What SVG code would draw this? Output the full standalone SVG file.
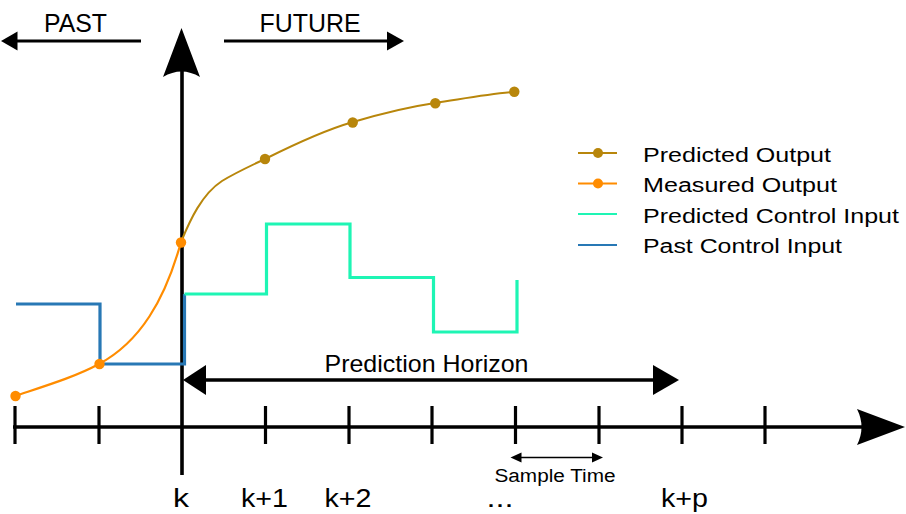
<svg xmlns="http://www.w3.org/2000/svg" width="906" height="514" viewBox="0 0 906 514">
<style>
text{font-family:"Liberation Sans",Arial,sans-serif;fill:#000}
.big{font-size:25px}
.lbl{font-size:26px}
.leg{font-size:20px}
.axis{stroke:#000;stroke-width:3.6;fill:none}
.tick{stroke:#000;stroke-width:3.2}
.thin{stroke:#000;stroke-width:3;fill:none}
.pred{stroke:#B8860B;stroke-width:2;fill:none}
.meas{stroke:#FF8C00;stroke-width:2.2;fill:none}
.pci{stroke:#1EF5B4;stroke-width:3.2;fill:none}
.past{stroke:#2878B5;stroke-width:3.2;fill:none}
.dp{fill:#B8860B}
.dm{fill:#FF8C00}
</style>
<rect width="906" height="514" fill="#fff"/>
<g id="connectors">
  <!-- time axis -->
  <line class="axis" x1="13" y1="427" x2="862" y2="427"/>
  <path d="M905,427 L857,409 Q866,427 857,445 Z" fill="#000"/>
  <g class="tick">
    <line x1="15" y1="406" x2="15" y2="444"/>
    <line x1="99" y1="406" x2="99" y2="444"/>
    <line x1="265.5" y1="406" x2="265.5" y2="444"/>
    <line x1="349" y1="406" x2="349" y2="444"/>
    <line x1="432" y1="406" x2="432" y2="444"/>
    <line x1="515.5" y1="406" x2="515.5" y2="444"/>
    <line x1="599" y1="406" x2="599" y2="444"/>
    <line x1="682" y1="406" x2="682" y2="444"/>
    <line x1="765" y1="406" x2="765" y2="444"/>
  </g>
  <!-- vertical k axis -->
  <line class="axis" x1="182" y1="475" x2="182" y2="70"/>
  <path d="M181.5,28 L200,77 Q181.5,66 163,77 Z" fill="#000"/>
  <!-- past / future arrows -->
  <line class="thin" x1="16" y1="41" x2="141" y2="41"/>
  <polygon points="1,41 17.5,31.5 17.5,50.5" fill="#000"/>
  <line class="thin" x1="224" y1="41" x2="389" y2="41"/>
  <polygon points="404,41 387,31.5 387,50.5" fill="#000"/>
  <!-- prediction horizon -->
  <line class="axis" x1="204" y1="380" x2="655" y2="380"/>
  <polygon points="183,380 206,365 206,395" fill="#000"/>
  <polygon points="679,380 653,365 653,395" fill="#000"/>
  <!-- sample time -->
  <line stroke="#000" stroke-width="1.6" x1="518" y1="457.5" x2="596" y2="457.5"/>
  <polygon points="510.5,457.5 521.5,452.5 521.5,462.5" fill="#000"/>
  <polygon points="603,457.5 592,452.5 592,462.5" fill="#000"/>
</g>
<g id="past-control-input">
  <path class="past" d="M16,304 H100 V364 H184.5 V294"/>
</g>
<g id="predicted-control-input">
  <path class="pci" d="M184.5,294 H266.5 V224 H350 V277.5 H433.5 V332 H517 V280"/>
</g>
<g id="predicted-output">
  <path class="pred" d="M181,242 C190,220 202,194 222,181 C235,173 250,166 265,159 C295,144 325,130 353,122 C380,114 408,107 435,103 C462,99 488,94 514,92"/>
  <circle class="dp" cx="265" cy="159" r="5.2"/>
  <circle class="dp" cx="352.7" cy="122.5" r="5.2"/>
  <circle class="dp" cx="435.3" cy="103.3" r="5.2"/>
  <circle class="dp" cx="514.3" cy="91.7" r="5.2"/>
</g>
<g id="measured-output">
  <path class="meas" d="M15,396 C45,386 75,377 99,364 C140,342 165,300 181,242"/>
  <circle class="dm" cx="15.5" cy="396" r="5.2"/>
  <circle class="dm" cx="99.5" cy="364" r="5.2"/>
  <circle class="dm" cx="181" cy="242.5" r="5.2"/>
</g>
<g id="legend">
  <line class="pred" x1="578" y1="153" x2="617" y2="153"/>
  <circle class="dp" cx="598" cy="153" r="5"/>
  <line class="meas" x1="578" y1="183.5" x2="617" y2="183.5"/>
  <circle class="dm" cx="598" cy="183.5" r="5"/>
  <line stroke="#1EF5B4" stroke-width="2.2" x1="578" y1="214" x2="617" y2="214"/>
  <line stroke="#2878B5" stroke-width="2.2" x1="578" y1="245" x2="617" y2="245"/>
  <text class="leg" x="643" y="161.5" textLength="188" lengthAdjust="spacingAndGlyphs">Predicted Output</text>
  <text class="leg" x="643" y="192" textLength="194" lengthAdjust="spacingAndGlyphs">Measured Output</text>
  <text class="leg" x="643" y="222.5" textLength="256" lengthAdjust="spacingAndGlyphs">Predicted Control Input</text>
  <text class="leg" x="643" y="253" textLength="199" lengthAdjust="spacingAndGlyphs">Past Control Input</text>
</g>
<g id="labels">
  <text class="big" x="44" y="32" textLength="63" lengthAdjust="spacingAndGlyphs">PAST</text>
  <text class="big" x="259.5" y="32" textLength="101" lengthAdjust="spacingAndGlyphs">FUTURE</text>
  <text style="font-size:24px" x="324.5" y="372.3" textLength="204" lengthAdjust="spacingAndGlyphs">Prediction Horizon</text>
  <text style="font-size:18px" x="494.5" y="482.3" textLength="121" lengthAdjust="spacingAndGlyphs">Sample Time</text>
  <text class="lbl" x="173" y="506.7" textLength="16" lengthAdjust="spacingAndGlyphs">k</text>
  <text class="lbl" x="241" y="506.7" textLength="47" lengthAdjust="spacingAndGlyphs">k+1</text>
  <text class="lbl" x="324.5" y="506.7" textLength="47" lengthAdjust="spacingAndGlyphs">k+2</text>
  <text class="lbl" x="486.5" y="506.7" textLength="27" lengthAdjust="spacingAndGlyphs">...</text>
  <text class="lbl" x="661" y="506.7" textLength="47" lengthAdjust="spacingAndGlyphs">k+p</text>
</g>
</svg>
